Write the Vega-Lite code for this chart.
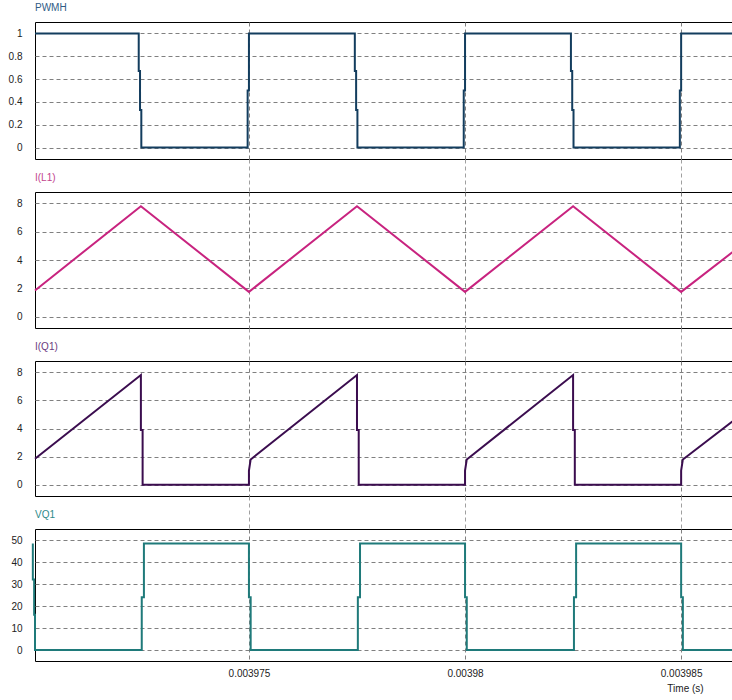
{
  "$schema": "https://vega.github.io/schema/vega-lite/v6.json",
  "background": "white",
  "padding": {"left": 7, "top": 2, "right": 0, "bottom": 0},
  "spacing": 33,
  "bounds": "flush",
  "config": {
    "font": "Liberation Sans",
    "view": {"stroke": "#000000", "strokeWidth": 1},
    "axis": {"labelFont": "Liberation Sans", "labelFontSize": 10, "labelColor": "#222222", "ticks": false, "domain": false, "grid": true, "gridColor": "#808080", "gridDash": [4, 3], "gridWidth": 1},
    "title": {"anchor": "start", "frame": "group", "font": "Liberation Sans", "fontSize": 10, "fontWeight": "normal", "offset": 9, "baseline": "alphabetic"}
  },
  "datasets": {
    "pwmh": [
      {"t": 0.00397005, "v": 1}, {"t": 0.00397245, "v": 1}, {"t": 0.00397245, "v": 0.67}, {"t": 0.00397248, "v": 0.67}, {"t": 0.00397248, "v": 0.33}, {"t": 0.00397251, "v": 0.33}, {"t": 0.00397251, "v": 0},
      {"t": 0.00397497, "v": 0}, {"t": 0.00397497, "v": 0.5}, {"t": 0.003975, "v": 0.5}, {"t": 0.003975, "v": 1},
      {"t": 0.00397745, "v": 1}, {"t": 0.00397745, "v": 0.67}, {"t": 0.00397748, "v": 0.67}, {"t": 0.00397748, "v": 0.33}, {"t": 0.00397751, "v": 0.33}, {"t": 0.00397751, "v": 0},
      {"t": 0.00397997, "v": 0}, {"t": 0.00397997, "v": 0.5}, {"t": 0.00398, "v": 0.5}, {"t": 0.00398, "v": 1},
      {"t": 0.00398245, "v": 1}, {"t": 0.00398245, "v": 0.67}, {"t": 0.00398248, "v": 0.67}, {"t": 0.00398248, "v": 0.33}, {"t": 0.00398251, "v": 0.33}, {"t": 0.00398251, "v": 0},
      {"t": 0.00398497, "v": 0}, {"t": 0.00398497, "v": 0.5}, {"t": 0.003985, "v": 0.5}, {"t": 0.003985, "v": 1},
      {"t": 0.00398625, "v": 1}
    ],
    "il1": [
      {"t": 0.00397005, "v": 1.85}, {"t": 0.0039725, "v": 7.8}, {"t": 0.003975, "v": 1.75}, {"t": 0.0039775, "v": 7.8}, {"t": 0.00398, "v": 1.75}, {"t": 0.0039825, "v": 7.8}, {"t": 0.003985, "v": 1.75}, {"t": 0.00398625, "v": 4.7}
    ],
    "iq1": [
      {"t": 0.00397005, "v": 1.85}, {"t": 0.0039725, "v": 7.8}, {"t": 0.0039725, "v": 3.9}, {"t": 0.00397254, "v": 3.9}, {"t": 0.00397254, "v": 0},
      {"t": 0.003975, "v": 0}, {"t": 0.003975, "v": 1.0}, {"t": 0.00397504, "v": 1.8}, {"t": 0.0039775, "v": 7.8}, {"t": 0.0039775, "v": 3.9}, {"t": 0.00397754, "v": 3.9}, {"t": 0.00397754, "v": 0},
      {"t": 0.00398, "v": 0}, {"t": 0.00398, "v": 1.0}, {"t": 0.00398004, "v": 1.8}, {"t": 0.0039825, "v": 7.8}, {"t": 0.0039825, "v": 3.9}, {"t": 0.00398254, "v": 3.9}, {"t": 0.00398254, "v": 0},
      {"t": 0.003985, "v": 0}, {"t": 0.003985, "v": 1.0}, {"t": 0.00398504, "v": 1.8}, {"t": 0.00398625, "v": 4.65}
    ],
    "vq1": [
      {"t": 0.00397, "v": 48.4}, {"t": 0.00397, "v": 32}, {"t": 0.00397003, "v": 32}, {"t": 0.00397003, "v": 16}, {"t": 0.00397005, "v": 16}, {"t": 0.00397005, "v": 0},
      {"t": 0.00397252, "v": 0}, {"t": 0.00397252, "v": 24}, {"t": 0.00397257, "v": 24}, {"t": 0.00397257, "v": 48.4},
      {"t": 0.003975, "v": 48.4}, {"t": 0.003975, "v": 24}, {"t": 0.00397504, "v": 24}, {"t": 0.00397504, "v": 0},
      {"t": 0.00397752, "v": 0}, {"t": 0.00397752, "v": 24}, {"t": 0.00397757, "v": 24}, {"t": 0.00397757, "v": 48.4},
      {"t": 0.00398, "v": 48.4}, {"t": 0.00398, "v": 24}, {"t": 0.00398004, "v": 24}, {"t": 0.00398004, "v": 0},
      {"t": 0.00398252, "v": 0}, {"t": 0.00398252, "v": 24}, {"t": 0.00398257, "v": 24}, {"t": 0.00398257, "v": 48.4},
      {"t": 0.003985, "v": 48.4}, {"t": 0.003985, "v": 24}, {"t": 0.00398504, "v": 24}, {"t": 0.00398504, "v": 0},
      {"t": 0.00398625, "v": 0}
    ]
  },
  "vconcat": [
    {
      "title": {"text": "PWMH", "color": "#2f5b85"},
      "width": 698, "height": 137,
      "data": {"name": "pwmh"},
      "mark": {"type": "line", "color": "#133d5e", "strokeWidth": 2},
      "encoding": {
        "x": {"field": "t", "type": "quantitative", "scale": {"domain": [0.00397005, 0.0039862], "nice": false, "zero": false}, "axis": {"values": [0.003975, 0.00398, 0.003985], "labels": false, "ticks": true, "tickSize": 33, "tickDash": [4, 3], "tickColor": "#a0a0a0", "tickWidth": 1, "title": null}},
        "y": {"field": "v", "type": "quantitative", "scale": {"domain": [-0.1, 1.1], "nice": false, "zero": false}, "axis": {"values": [0, 0.2, 0.4, 0.6, 0.8, 1], "format": "~r", "labelPadding": 13, "title": null}}
      }
    },
    {
      "title": {"text": "I(L1)", "color": "#c2448e"},
      "width": 698, "height": 136,
      "data": {"name": "il1"},
      "mark": {"type": "line", "color": "#c8237f", "strokeWidth": 2},
      "encoding": {
        "x": {"field": "t", "type": "quantitative", "scale": {"domain": [0.00397005, 0.0039862], "nice": false, "zero": false}, "axis": {"values": [0.003975, 0.00398, 0.003985], "labels": false, "ticks": true, "tickSize": 33, "tickDash": [4, 3], "tickColor": "#a0a0a0", "tickWidth": 1, "title": null}},
        "y": {"field": "v", "type": "quantitative", "scale": {"domain": [-0.8, 8.8], "nice": false, "zero": false}, "axis": {"values": [0, 2, 4, 6, 8], "format": "~r", "labelPadding": 13, "title": null}}
      }
    },
    {
      "title": {"text": "I(Q1)", "color": "#6a3a80"},
      "width": 698, "height": 135,
      "data": {"name": "iq1"},
      "mark": {"type": "line", "color": "#3b0d4f", "strokeWidth": 2},
      "encoding": {
        "x": {"field": "t", "type": "quantitative", "scale": {"domain": [0.00397005, 0.0039862], "nice": false, "zero": false}, "axis": {"values": [0.003975, 0.00398, 0.003985], "labels": false, "ticks": true, "tickSize": 33, "tickDash": [4, 3], "tickColor": "#a0a0a0", "tickWidth": 1, "title": null}},
        "y": {"field": "v", "type": "quantitative", "scale": {"domain": [-0.8, 8.8], "nice": false, "zero": false}, "axis": {"values": [0, 2, 4, 6, 8], "format": "~r", "labelPadding": 13, "title": null}}
      }
    },
    {
      "title": {"text": "VQ1", "color": "#2e8a8a"},
      "width": 698, "height": 132,
      "data": {"name": "vq1"},
      "mark": {"type": "line", "color": "#1f7a7a", "strokeWidth": 2},
      "encoding": {
        "x": {"field": "t", "type": "quantitative", "scale": {"domain": [0.00397005, 0.0039862], "nice": false, "zero": false}, "axis": {"values": [0.003975, 0.00398, 0.003985], "format": "~r", "labelPadding": 7, "title": "Time (s)", "titleX": 650, "titleY": 27, "titleAlign": "center", "titleBaseline": "middle", "titleFontSize": 10, "titleFontWeight": "normal", "titleColor": "#222222", "titleFont": "Liberation Sans"}},
        "y": {"field": "v", "type": "quantitative", "scale": {"domain": [-5, 55], "nice": false, "zero": false}, "axis": {"values": [0, 10, 20, 30, 40, 50], "format": "~r", "labelPadding": 13, "title": null}}
      }
    }
  ]
}
